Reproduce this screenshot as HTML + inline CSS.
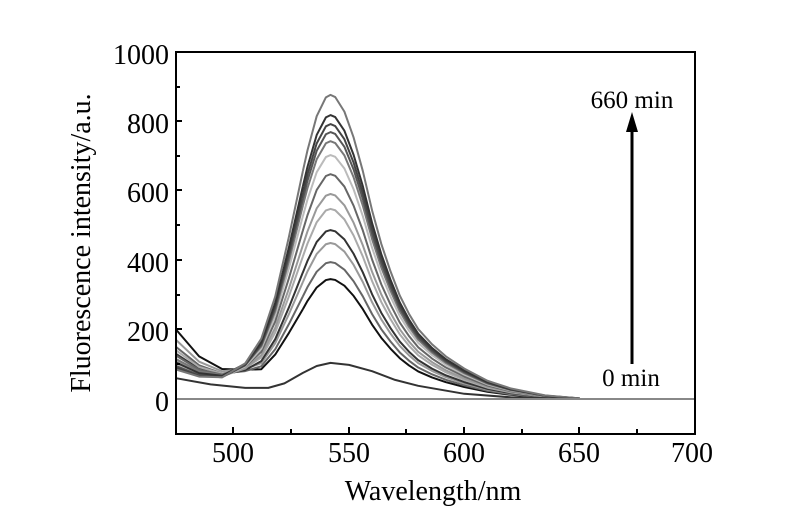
<!DOCTYPE html>
<html><head><meta charset="utf-8"><style>
html,body{margin:0;padding:0;background:#fff;}
svg{display:block;font-family:"Liberation Serif",serif;}
</style></head><body>
<svg width="800" height="511" viewBox="0 0 800 511" xmlns="http://www.w3.org/2000/svg">
<rect width="800" height="511" fill="#fff"/>
<defs>
<path id="pk" fill="none" vector-effect="non-scaling-stroke" d="M302.9,-75 L307.5,-81.8 L316.7,-93 L325.9,-99.2 L330.5,-100 L335.2,-99.3 L344.4,-94.5 L353.6,-86 L362.8,-75 L372.1,-62 L381.3,-51 L390.5,-42 L399.8,-34 L409,-28 L418.2,-23 L432,-18 L445.9,-14 L464.3,-10 L487.4,-6 L510.5,-3.5 L545.1,-1.2 L579.7,-0.2"/>
</defs>
<g fill="none" stroke-width="2" stroke-linejoin="round">
<path stroke="#111" d="M176,329.5 L199.1,356.4 L222.1,369 L245.2,369.8 L261.3,369.2 L275.2,354.6 L289,332.8 L302.9,309.1"/>
<use href="#pk" stroke="#111" stroke-width="2" transform="translate(0,399) scale(1,1.199)"/>
<path stroke="#666" d="M176,346.9 L199.1,365.3 L222.1,373.4 L245.2,371.1 L261.3,366.3 L275.2,349.3 L289,323.9 L302.9,296.3"/>
<use href="#pk" stroke="#666" stroke-width="2" transform="translate(0,399) scale(1,1.369)"/>
<path stroke="#999" d="M176,339.9 L199.1,361.7 L222.1,371.3 L245.2,368.9 L261.3,363.2 L275.2,343.3 L289,313.9 L302.9,282"/>
<use href="#pk" stroke="#999" stroke-width="2" transform="translate(0,399) scale(1,1.560)"/>
<path stroke="#333" d="M176,353.8 L199.1,368.8 L222.1,374.8 L245.2,370 L261.3,361.1 L275.2,339.2 L289,307.2 L302.9,272.3"/>
<use href="#pk" stroke="#333" stroke-width="2" transform="translate(0,399) scale(1,1.689)"/>
<path stroke="#aaa" d="M176,350.3 L199.1,367 L222.1,373.6 L245.2,368.1 L261.3,357.5 L275.2,332.5 L289,296.1 L302.9,256.4"/>
<use href="#pk" stroke="#aaa" stroke-width="2" transform="translate(0,399) scale(1,1.901)"/>
<path stroke="#999" d="M176,360.8 L199.1,372.3 L222.1,376.2 L245.2,368.6 L261.3,355.1 L275.2,327.8 L289,288.3 L302.9,245.2"/>
<use href="#pk" stroke="#999" stroke-width="2" transform="translate(0,399) scale(1,2.050)"/>
<path stroke="#666" d="M176,355.6 L199.1,369.6 L222.1,374.6 L245.2,366.6 L261.3,351.8 L275.2,321.6 L289,277.9 L302.9,230.4"/>
<use href="#pk" stroke="#666" stroke-width="2" transform="translate(0,399) scale(1,2.248)"/>
<path stroke="#bbb" d="M176,364.3 L199.1,374 L222.1,376.7 L245.2,366.5 L261.3,348.7 L275.2,315.6 L289,268 L302.9,216"/>
<use href="#pk" stroke="#bbb" stroke-width="2" transform="translate(0,399) scale(1,2.439)"/>
<path stroke="#777" d="M176,359 L199.1,371.3 L222.1,375.1 L245.2,364.9 L261.3,346.4 L275.2,311.2 L289,260.7 L302.9,205.6"/>
<use href="#pk" stroke="#777" stroke-width="2" transform="translate(0,399) scale(1,2.578)"/>
<path stroke="#555" d="M176,366 L199.1,374.9 L222.1,376.9 L245.2,365.3 L261.3,344.9 L275.2,308.3 L289,255.9 L302.9,198.8"/>
<use href="#pk" stroke="#555" stroke-width="2" transform="translate(0,399) scale(1,2.669)"/>
<path stroke="#444" d="M176,367.7 L199.1,375.8 L222.1,377.2 L245.2,365 L261.3,343.6 L275.2,305.8 L289,251.8 L302.9,192.8"/>
<use href="#pk" stroke="#444" stroke-width="2" transform="translate(0,399) scale(1,2.749)"/>
<path stroke="#333" d="M176,362.5 L199.1,373.1 L222.1,375.7 L245.2,363.7 L261.3,342.1 L275.2,303 L289,247 L302.9,186.1"/>
<use href="#pk" stroke="#333" stroke-width="2" transform="translate(0,399) scale(1,2.839)"/>
<path stroke="#777" d="M176,369.5 L199.1,376.6 L222.1,377.3 L245.2,363.4 L261.3,338.7 L275.2,296.6 L289,236.5 L302.9,171"/>
<use href="#pk" stroke="#777" stroke-width="2" transform="translate(0,399) scale(1,3.041)"/>
<path stroke="#333" d="M176,378.2 L210.6,384.4 L245.2,387.9 L268.3,387.9 L284.4,383.4 L302.9,372.9 L316.7,366 L330.5,362.9 L349,364.9 L372.1,371.2 L395.1,379.9 L418.2,385.8 L464.3,393.8 L510.5,397.3 L579.7,399"/>
</g>
<line x1="176" y1="399" x2="695" y2="399" stroke="#888" stroke-width="2"/>
<rect x="176" y="52" width="519" height="382" fill="none" stroke="#000" stroke-width="2"/>
<g stroke="#000" stroke-width="2">
<line x1="176" y1="87" x2="180" y2="87"/>
<line x1="176" y1="121" x2="182" y2="121"/><line x1="176" y1="156" x2="180" y2="156"/>
<line x1="176" y1="190" x2="182" y2="190"/><line x1="176" y1="225" x2="180" y2="225"/>
<line x1="176" y1="260" x2="182" y2="260"/><line x1="176" y1="295" x2="180" y2="295"/>
<line x1="176" y1="329" x2="182" y2="329"/><line x1="176" y1="364" x2="180" y2="364"/>
<line x1="233" y1="434" x2="233" y2="427"/><line x1="291" y1="434" x2="291" y2="429"/>
<line x1="349" y1="434" x2="349" y2="427"/><line x1="406" y1="434" x2="406" y2="429"/>
<line x1="464" y1="434" x2="464" y2="427"/><line x1="522" y1="434" x2="522" y2="429"/>
<line x1="579" y1="434" x2="579" y2="427"/><line x1="637" y1="434" x2="637" y2="429"/>
</g>
<g font-size="28" text-anchor="end" fill="#000">
<text x="169" y="64">1000</text><text x="169" y="133">800</text><text x="169" y="202">600</text>
<text x="169" y="272">400</text><text x="169" y="341">200</text><text x="169" y="411">0</text>
</g>
<g font-size="28" text-anchor="middle" fill="#000">
<text x="233" y="462">500</text><text x="349" y="462">550</text><text x="464" y="462">600</text>
<text x="579" y="462">650</text><text x="692" y="462">700</text>
<text x="433" y="500">Wavelength/nm</text>
<text transform="translate(90,243) rotate(-90)">Fluorescence intensity/a.u.</text>
</g>
<line x1="632" y1="364" x2="632" y2="130" stroke="#000" stroke-width="3"/>
<polygon points="632,112 626,132 638,132" fill="#000"/>
<text x="632" y="108" font-size="25" text-anchor="middle">660 min</text>
<text x="631" y="386" font-size="25" text-anchor="middle">0 min</text>
</svg>
</body></html>
